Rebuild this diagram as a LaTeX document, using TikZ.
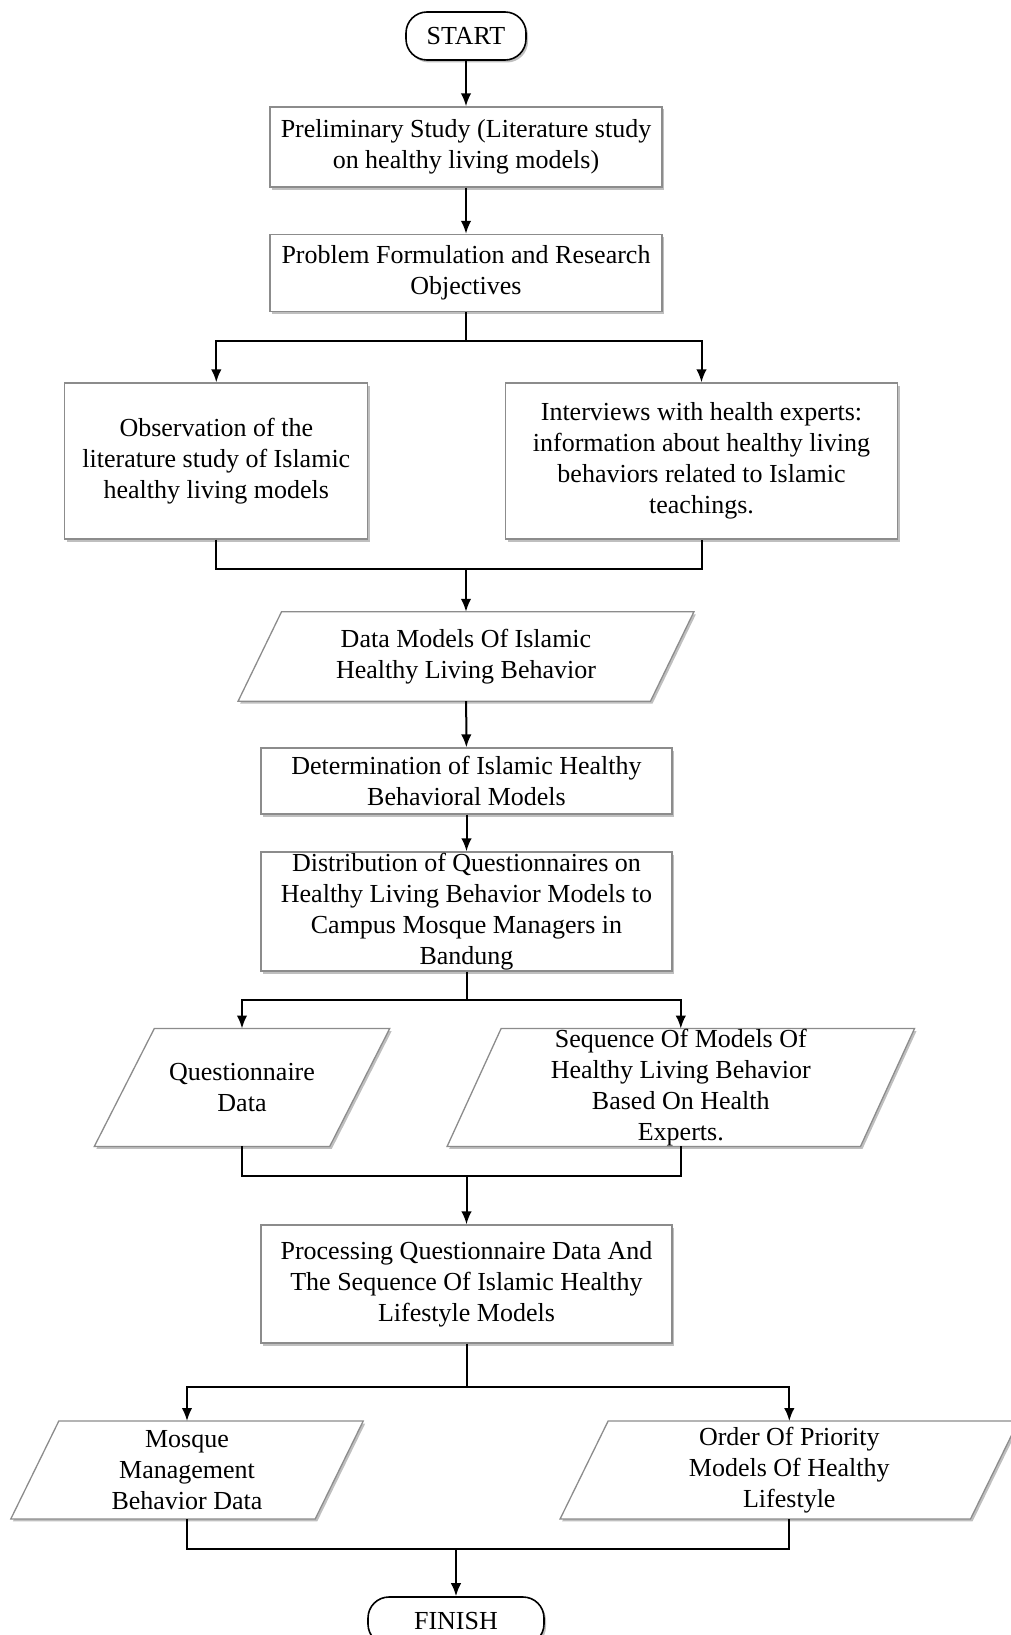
\documentclass[tikz,border=0pt]{standalone}
\usepackage{fontspec}
\setmainfont{Liberation Serif}
\usetikzlibrary{arrows.meta,shadows,backgrounds,calc}
\begin{document}
\begin{tikzpicture}[x=1pt,y=-1pt,
  font=\fontsize{26}{31}\selectfont,
  every node/.style={inner sep=0pt, align=center},
  shade/.style={drop shadow={shadow xshift=2pt, shadow yshift=-2.5pt, opacity=0.25, fill=black}},
  pbox/.style={draw=black!45, line width=1.3pt, fill=white, shade},
  rbox/.style={pbox},
  term/.style={draw=black, line width=1.6pt, rounded corners=21pt, fill=white, shade},
  conn/.style={line width=2pt, black},
  arr/.style={conn, -{Latex[length=13pt,width=10.5pt]}},
]
\path[use as bounding box] (0,0) rectangle (1010,1635);
\clip (0,0) rectangle (1010,1635);

\newcommand\paraout[2]{%
  \draw[pbox] ([xshift=#2pt]#1.north west) -- ([xshift=#2pt]#1.north east)
    -- ([xshift=-#2pt]#1.south east) -- ([xshift=-#2pt]#1.south west) -- cycle;}

% nodes
\node[term, minimum width=120pt, minimum height=48pt] (start) at (466,36) {START};
\node[rbox, minimum width=392pt, minimum height=80pt] (prelim) at (466,147)
  {Preliminary Study (Literature study\\on healthy living models)};
\node[rbox, minimum width=392pt, minimum height=77pt] (problem) at (466,273)
  {Problem Formulation and Research\\Objectives};
\node[rbox, minimum width=303pt, minimum height=156pt] (obs) at (216.3,461)
  {Observation of the\\literature study of Islamic\\healthy living models};
\node[rbox, minimum width=392pt, minimum height=156pt] (interv) at (701.5,461)
  {Interviews with health experts:\\information about healthy living\\behaviors related to Islamic\\teachings.};
\node[minimum width=412pt, minimum height=89pt] (datamod) at (466,656.5)
  {Data Models Of Islamic\\Healthy Living Behavior};
\node[rbox, minimum width=411pt, minimum height=66pt] (determ) at (466.5,781)
  {Determination of Islamic Healthy\\Behavioral Models};
\node[rbox, minimum width=411pt, minimum height=119pt] (distr) at (466.5,911.5)
  {Distribution of Questionnaires on\\Healthy Living Behavior Models to\\Campus Mosque Managers in\\Bandung};
\node[minimum width=235pt, minimum height=117.5pt] (quest) at (242,1087.5)
  {Questionnaire\\Data};
\node[minimum width=413pt, minimum height=117.5pt] (seq) at (680.8,1087.5)
  {Sequence Of Models Of\\Healthy Living Behavior\\Based On Health\\Experts.};
\node[rbox, minimum width=411pt, minimum height=118pt] (proc) at (466.5,1284)
  {Processing Questionnaire Data And\\The Sequence Of Islamic Healthy\\Lifestyle Models};
\node[minimum width=304pt, minimum height=97.5pt] (mosque) at (187,1470)
  {Mosque\\Management\\Behavior Data};
\node[minimum width=410pt, minimum height=97.5pt] (order) at (789.3,1470)
  {Order Of Priority\\Models Of Healthy\\Lifestyle};
\node[term, minimum width=176pt, minimum height=48pt] (finish) at (456,1621) {FINISH};

\begin{scope}[on background layer]
  \paraout{datamod}{21.7}
  \paraout{quest}{30}
  \paraout{seq}{27}
  \paraout{mosque}{24}
  \paraout{order}{24}
\end{scope}

% junction points
\coordinate (b1) at (466,341);
\coordinate (m1) at (466,569);
\coordinate (b2) at (466.5,1000);
\coordinate (m2) at (466.5,1176);
\coordinate (b3) at (466.5,1387);
\coordinate (m3) at (456,1549);

% connectors
\draw[arr] (start) -- (prelim);
\draw[arr] (prelim) -- (problem);
\draw[conn] (problem.south) -- (b1);
\draw[arr] (b1) -| (obs.north);
\draw[arr] (b1) -| (interv.north);
\draw[conn] (obs.south) |- (m1) -| (interv.south);
\draw[arr] (m1) -- (datamod.north);
\draw[arr] (datamod) -- (determ);
\draw[arr] (determ) -- (distr);
\draw[conn] (distr.south) -- (b2);
\draw[arr] (b2) -| (quest.north);
\draw[arr] (b2) -| (seq.north);
\draw[conn] (quest.south) |- (m2) -| (seq.south);
\draw[arr] (m2) -- (proc.north);
\draw[conn] (proc.south) -- (b3);
\draw[arr] (b3) -| (mosque.north);
\draw[arr] (b3) -| (order.north);
\draw[conn] (mosque.south) |- (m3) -| (order.south);
\draw[arr] (m3) -- (finish.north);
\end{tikzpicture}
\end{document}
